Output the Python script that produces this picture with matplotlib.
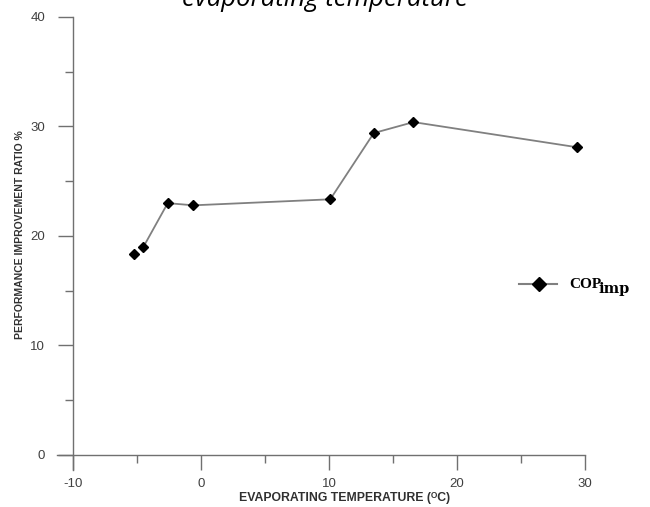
import matplotlib.pyplot as plt
from matplotlib.ticker import MultipleLocator

# data
evap_temp = [-5.2, -4.5, -2.6, -0.6, 10.1, 13.5, 16.6, 29.4]
cop_imp = [18.4, 19.0, 23.0, 22.8, 23.35, 29.4, 30.4, 28.1]

x_ticks = [-10, 0, 10, 20, 30]
y_ticks = [0, 10, 20, 30, 40]

plt.rcParams['axes.unicode_minus'] = False

fig = plt.figure(figsize=(6.5, 5.07), dpi=100)
ax = fig.add_axes([0.1123, 0.1026, 0.7877, 0.8639])

axis_grey = '#707070'
line_grey = '#808080'

# the line starts at the second point, the first marker stands alone
ax.plot(evap_temp[1:], cop_imp[1:], color=line_grey, lw=1.3, zorder=2)
ax.plot(evap_temp, cop_imp, ls='none', marker='D', ms=5.5, color='black', zorder=3)

ax.set_xlim(-10, 30)
ax.set_ylim(0, 40)
ax.set_xticks(x_ticks)
ax.set_yticks(y_ticks)
ax.xaxis.set_minor_locator(MultipleLocator(5))
ax.yaxis.set_minor_locator(MultipleLocator(5))

for s in ['top', 'right']:
    ax.spines[s].set_visible(False)
for s in ['left', 'bottom']:
    ax.spines[s].set_color(axis_grey)
    ax.spines[s].set_linewidth(1.0)
ax.spines['left'].set_bounds(-1.35, 40)
ax.spines['bottom'].set_bounds(-11.25, 30)

ax.tick_params(which='major', direction='out', length=11, width=1.0, color=axis_grey,
               labelsize=9.5, labelcolor='#404040')
ax.tick_params(which='minor', direction='out', length=5.5, width=1.0, color=axis_grey)
ax.tick_params(axis='x', which='major', pad=5.5)
ax.tick_params(axis='y', which='major', pad=9)
for lab in ax.get_xticklabels() + ax.get_yticklabels():
    lab.set_family(['Liberation Sans', 'DejaVu Sans'])

narrow = ['Liberation Sans Narrow', 'Liberation Sans', 'DejaVu Sans']
fig.text(345 / 650, 1 - 498 / 507, 'EVAPORATING TEMPERATURE (\u1d3cC)',
         ha='center', va='center', fontsize=8.8, fontweight='bold', family=narrow, color='#303030')
fig.text(20.5 / 650, 1 - 235 / 507, 'PERFORMANCE IMPROVEMENT RATIO %', rotation=90,
         ha='center', va='center', fontsize=7.5, fontweight='bold', family=narrow, color='#303030')

# title, cut off by the top edge as in the source image
fig.text(325 / 650, 1 - 6 / 507, 'evaporating temperature', ha='center', va='baseline',
         fontsize=18.5, style='italic', family=['Open Sans', 'DejaVu Sans'], color='black')

# legend entry drawn by hand
fig.add_artist(plt.Line2D([519 / 650, 557 / 650], [1 - 284 / 507] * 2, color=line_grey, lw=1.5))
fig.add_artist(plt.Line2D([539 / 650], [1 - 284 / 507], ls='none', marker='D', ms=7.5,
                          color='black'))
fig.text(569 / 650, 1 - 285 / 507, 'COP', ha='left', va='center', fontsize=11,
         fontweight='bold', family=['Liberation Serif', 'DejaVu Serif'])
fig.text(598 / 650, 1 - 289 / 507, 'imp', ha='left', va='center', fontsize=10.5,
         fontweight='bold', family=['DejaVu Serif'])

fig.savefig('out.png', dpi=100)
